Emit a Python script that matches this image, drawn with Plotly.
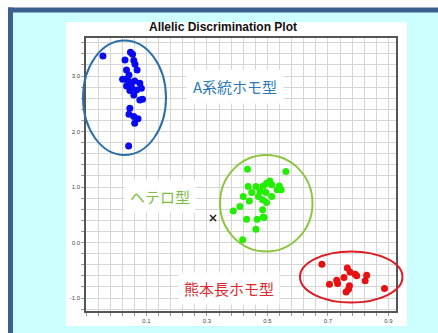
import plotly.graph_objects as go

# ---------------- data ----------------
blue_x = [-0.044, 0.047, 0.054, 0.029, 0.058, 0.062, 0.034, 0.069, 0.042, 0.021, 0.031, 0.042,
          0.061, 0.078, 0.034, 0.050, 0.067, 0.083, 0.045, 0.058, 0.087, 0.078, 0.045, 0.042,
          0.058, 0.072, 0.061, 0.041]
blue_y = [3.36, 3.43, 3.39, 3.29, 3.28, 3.21, 3.11, 3.11, 3.02, 2.94, 2.94, 2.90,
          2.91, 2.87, 2.82, 2.81, 2.75, 2.78, 2.74, 2.66, 2.58, 2.57, 2.42, 2.31,
          2.27, 2.23, 2.15, 1.74]

green_x = [0.434, 0.561, 0.508, 0.497, 0.514, 0.486, 0.436, 0.462, 0.539, 0.532, 0.545, 0.475,
           0.448, 0.495, 0.420, 0.470, 0.514, 0.440, 0.484, 0.497, 0.409, 0.484, 0.387, 0.486,
           0.431, 0.466, 0.489, 0.462, 0.418]
green_y = [1.32, 1.28, 1.11, 1.07, 1.04, 1.02, 1.01, 1.01, 1.02, 0.95, 0.95, 0.93,
           0.90, 0.90, 0.83, 0.83, 0.83, 0.75, 0.77, 0.72, 0.65, 0.59, 0.57, 0.46,
           0.42, 0.42, 0.45, 0.24, 0.05]

red_x = [0.680, 0.764, 0.773, 0.790, 0.795, 0.828, 0.753, 0.729, 0.823, 0.732, 0.705, 0.771,
         0.768, 0.760, 0.887]
red_y = [-0.39, -0.46, -0.53, -0.57, -0.60, -0.59, -0.63, -0.68, -0.69, -0.74, -0.75, -0.78,
         -0.84, -0.89, -0.83]

undet_x = [0.320]
undet_y = [0.44]

x_tickvals = [0.1, 0.3, 0.5, 0.7, 0.9]
x_ticktext = ["0.1", "0.3", "0.5", "0.7", "0.9"]
y_tickvals = [-1, 0, 1, 2, 3]
y_ticktext = ["-1.0", "0.0", "1.0", "2.0", "3.0"]

title_text = "Allelic Discrimination Plot"
label_a = "A系統ホモ型"
label_het = "ヘテロ型"
label_k = "熊本長ホモ型"

# ---------------- layout geometry (pixels) ----------------
W, H = 438, 333
L, R, T, B = 86, 42, 38, 22
PW, PH = W - L - R, H - T - B


def px(x):
    return (x - L) / PW


def py(y):
    return (H - B - y) / PH


fig = go.Figure()

fig.add_trace(go.Scatter(x=blue_x, y=blue_y, mode="markers",
                         marker=dict(color="#0a0af0", size=7), showlegend=False))
fig.add_trace(go.Scatter(x=green_x, y=green_y, mode="markers",
                         marker=dict(color="#22ee00", size=7), showlegend=False))
fig.add_trace(go.Scatter(x=red_x, y=red_y, mode="markers",
                         marker=dict(color="#e81010", size=7), showlegend=False))
fig.add_trace(go.Scatter(x=undet_x, y=undet_y, mode="markers",
                         marker=dict(symbol="x-thin", size=6, line=dict(width=1.5, color="#222")),
                         showlegend=False))

grid_col = "#d6d6d6"
fig.update_xaxes(range=[-0.1, 0.925], tickmode="array", tickvals=x_tickvals, ticktext=x_ticktext,
                 showgrid=True, gridcolor=grid_col, gridwidth=1,
                 showline=True, linecolor="#555", linewidth=1.5, mirror=True,
                 ticks="outside", ticklen=3, tickcolor="#999",
                 tickfont=dict(size=6, color="#444", family="Liberation Sans"),
                 minor=dict(tick0=0.1, dtick=0.04, showgrid=True, gridcolor=grid_col, gridwidth=1,
                            ticks="outside", ticklen=3, tickcolor="#999"),
                 zeroline=False)
fig.update_yaxes(range=[-1.234, 3.685], tickmode="array", tickvals=y_tickvals, ticktext=y_ticktext,
                 showgrid=True, gridcolor=grid_col, gridwidth=1,
                 showline=True, linecolor="#555", linewidth=1.5, mirror=True,
                 ticks="outside", ticklen=3, tickcolor="#999",
                 tickfont=dict(size=6, color="#444", family="Liberation Sans"),
                 minor=dict(tick0=0, dtick=0.2, showgrid=True, gridcolor=grid_col, gridwidth=1,
                            ticks="outside", ticklen=3, tickcolor="#999"),
                 zeroline=False)

shapes = []
# cyan background area inside the frame
shapes.append(dict(type="rect", xref="paper", yref="paper", layer="below",
                   x0=px(10), x1=px(W + 2), y0=py(H + 2), y1=py(10),
                   fillcolor="#ccffff", line=dict(width=0)))
# frame: left and top edges only
frame_col = "#3d5f8e"
shapes.append(dict(type="line", xref="paper", yref="paper", layer="below",
                   x0=px(10.5), x1=px(10.5), y0=py(H + 5), y1=py(7.5),
                   line=dict(color=frame_col, width=5)))
shapes.append(dict(type="line", xref="paper", yref="paper", layer="below",
                   x0=px(8), x1=px(W + 5), y0=py(10), y1=py(10),
                   line=dict(color=frame_col, width=5)))
# white chart panel
shapes.append(dict(type="rect", xref="paper", yref="paper", layer="below",
                   x0=px(66), x1=px(407), y0=py(326), y1=py(22),
                   fillcolor="white", line=dict(width=0)))
# ellipses around clusters
shapes.append(dict(type="circle", xref="paper", yref="paper", layer="above",
                   x0=px(83), x1=px(166), y0=py(155), y1=py(40.5),
                   line=dict(color="#2b6fa8", width=2)))
shapes.append(dict(type="circle", xref="paper", yref="paper", layer="above",
                   x0=px(220), x1=px(312.5), y0=py(251.5), y1=py(155),
                   line=dict(color="#8cc63f", width=2)))
shapes.append(dict(type="circle", xref="paper", yref="paper", layer="above",
                   x0=px(300), x1=px(402.5), y0=py(302.5), y1=py(251.5),
                   line=dict(color="#dd1c24", width=2)))

annotations = [
    dict(text=f"<b>{title_text}</b>", xref="paper", yref="paper", x=px(223), y=py(27),
         xanchor="center", yanchor="middle",
         showarrow=False, font=dict(size=12, color="#111", family="Liberation Sans")),
    dict(text=label_a, xref="paper", yref="paper", x=px(235), y=py(86),
         xanchor="center", yanchor="middle",
         showarrow=False, bgcolor="white", borderpad=6,
         font=dict(size=15, color="#2a7ab8", family="Noto Sans CJK JP")),
    dict(text=label_het, xref="paper", yref="paper", x=px(160), y=py(197),
         xanchor="center", yanchor="middle",
         showarrow=False, bgcolor="white", borderpad=5,
         font=dict(size=15, color="#7cbf3f", family="Noto Sans CJK JP")),
    dict(text=label_k, xref="paper", yref="paper", x=px(229), y=py(288),
         xanchor="center", yanchor="middle",
         showarrow=False, bgcolor="white", borderpad=5,
         font=dict(size=15, color="#e0262e", family="Noto Sans CJK JP")),
]

fig.update_layout(width=W, height=H, margin=dict(l=L, r=R, t=T, b=B, autoexpand=False),
                  paper_bgcolor="white", plot_bgcolor="white",
                  shapes=shapes, annotations=annotations, showlegend=False)

fig.write_html("out.html")
